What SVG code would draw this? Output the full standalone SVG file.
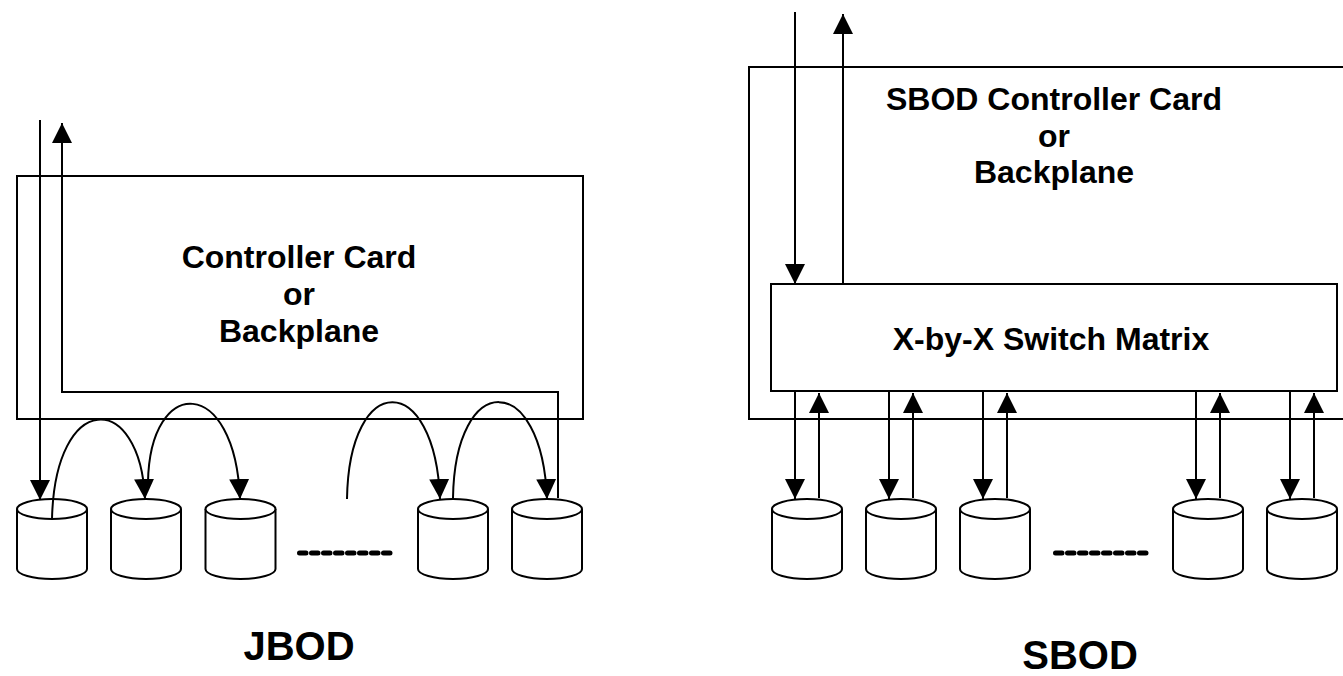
<svg xmlns="http://www.w3.org/2000/svg" width="1343" height="676" viewBox="0 0 1343 676">
<style>
.box{fill:none;stroke:#000;stroke-width:2}
.cyl{fill:#fff;stroke:#000;stroke-width:2}
.ln{fill:none;stroke:#000;stroke-width:2}
.arr{marker-end:url(#ah)}
.t{font-family:"Liberation Sans",Arial,sans-serif;font-weight:bold;font-size:32px;text-anchor:middle;fill:#000}
.big{font-size:40px}
.dots{stroke:#000;stroke-width:5;stroke-linecap:round;stroke-dasharray:6.5 5.5;fill:none}
</style>
<defs>
<marker id="ah" viewBox="0 0 20 20" markerWidth="20" markerHeight="20" markerUnits="userSpaceOnUse" refX="20" refY="10" orient="auto">
<path d="M0,0 L20,10 L0,20 z" fill="#000"/>
</marker>
<g id="cylshape">
<path d="M-35,0 L-35,60 A35,10 0 0 0 35,60 L35,0" class="cyl"/>
<ellipse cx="0" cy="0" rx="35" ry="10" class="cyl"/>
</g>
</defs>
<rect width="1343" height="676" fill="#fff"/>

<!-- JBOD -->
<g id="jbod-controller">
<rect class="box" x="17" y="176" width="566" height="243"/>
<text class="t" x="299" y="268">Controller Card</text>
<text class="t" x="299" y="305">or</text>
<text class="t" x="299" y="342">Backplane</text>
</g>
<g id="jbod-disk1"><use href="#cylshape" x="52" y="509"/></g>
<g id="jbod-disk2"><use href="#cylshape" x="146" y="509"/></g>
<g id="jbod-disk3"><use href="#cylshape" x="240.5" y="509"/></g>
<g id="jbod-disk4"><use href="#cylshape" x="453" y="509"/></g>
<g id="jbod-disk5"><use href="#cylshape" x="547" y="509"/></g>
<g id="jbod-dots"><line class="dots" x1="299.5" y1="553" x2="390" y2="553"/></g>
<g id="jbod-label"><text class="t big" x="299" y="660">JBOD</text></g>

<g id="jbod-connectors">
<path class="ln arr" d="M40,120 L40,500"/>
<path class="ln arr" d="M558,498 L558,392 L62,392 L62,123"/>
<path class="ln arr" d="M52,519 C55,390 140,390 145,499"/>
<path class="ln arr" d="M148,482 C150,375 235,375 240,499"/>
<path class="ln arr" d="M347,499 C349,370 435,370 440,499"/>
<path class="ln arr" d="M453,498 C455,370 542,370 547,499"/>
</g>

<!-- SBOD -->
<g id="sbod-controller">
<rect class="box" x="749" y="67" width="700" height="352"/>
<text class="t" x="1054" y="110">SBOD Controller Card</text>
<text class="t" x="1054" y="147">or</text>
<text class="t" x="1054" y="183">Backplane</text>
</g>
<g id="sbod-switch">
<rect class="box" x="771" y="284" width="566" height="107"/>
<text class="t" x="1051" y="350">X-by-X Switch Matrix</text>
</g>
<g id="sbod-disk1"><use href="#cylshape" x="807" y="509"/></g>
<g id="sbod-disk2"><use href="#cylshape" x="901" y="509"/></g>
<g id="sbod-disk3"><use href="#cylshape" x="995" y="509"/></g>
<g id="sbod-disk4"><use href="#cylshape" x="1208" y="509"/></g>
<g id="sbod-disk5"><use href="#cylshape" x="1302" y="509"/></g>
<g id="sbod-dots"><line class="dots" x1="1055.5" y1="553" x2="1146" y2="553"/></g>
<g id="sbod-label"><text class="t big" x="1080" y="669">SBOD</text></g>

<g id="sbod-connectors">
<path class="ln arr" d="M795,12 L795,284"/>
<path class="ln arr" d="M843,284 L843,14"/>
<path class="ln arr" d="M795,391 L795,499"/>
<path class="ln arr" d="M819,498 L819,393"/>
<path class="ln arr" d="M889,391 L889,499"/>
<path class="ln arr" d="M913,498 L913,393"/>
<path class="ln arr" d="M983,391 L983,499"/>
<path class="ln arr" d="M1007,498 L1007,393"/>
<path class="ln arr" d="M1196,391 L1196,499"/>
<path class="ln arr" d="M1220,498 L1220,393"/>
<path class="ln arr" d="M1290,391 L1290,499"/>
<path class="ln arr" d="M1314,498 L1314,393"/>
</g>
</svg>
